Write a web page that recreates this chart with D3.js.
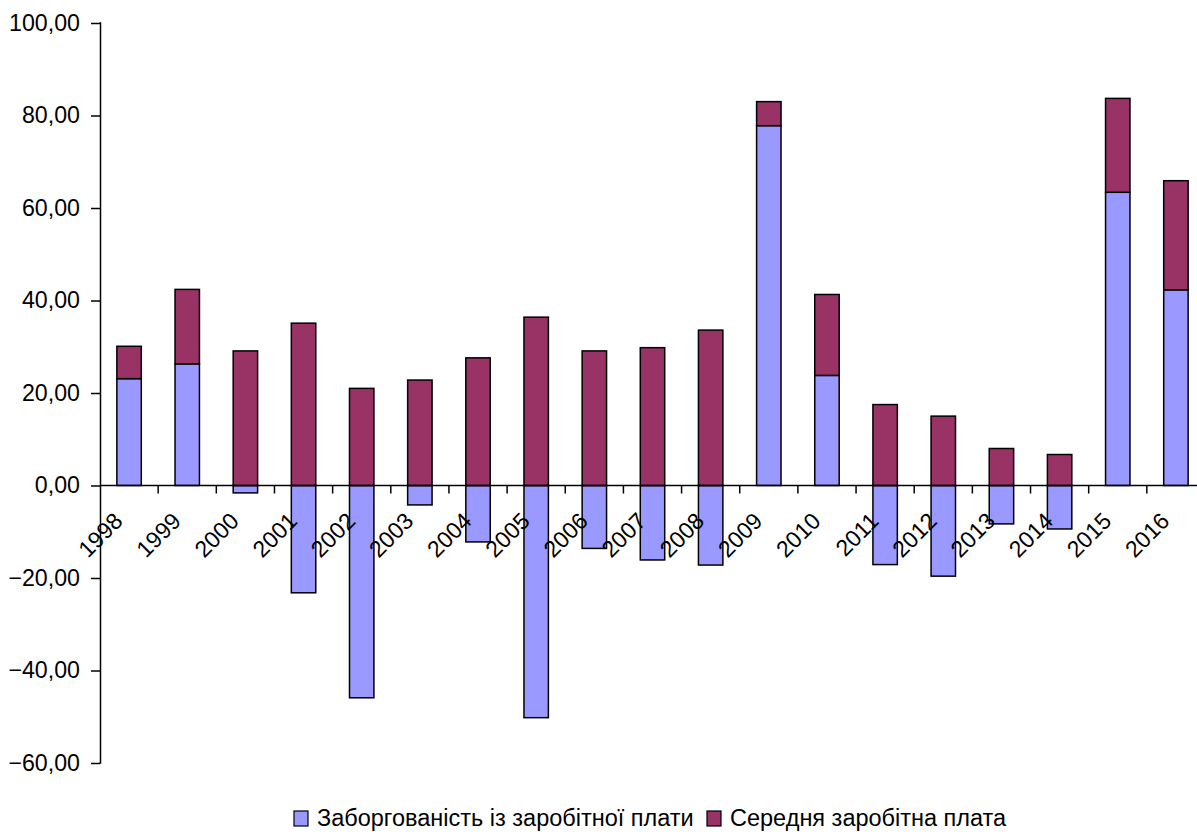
<!DOCTYPE html>
<html>
<head>
<meta charset="utf-8">
<script src="https://cdn.jsdelivr.net/npm/d3@7"></script>
<style>
  html, body { margin: 0; padding: 0; background: #fff; }
  svg { display: block; font-family: "Liberation Sans", Arial, sans-serif; }
</style>
</head>
<body>
<svg id="chart" width="1197" height="832"></svg>
<script>
// Annual change, %
const years = ["1998","1999","2000","2001","2002","2003","2004","2005","2006","2007",
               "2008","2009","2010","2011","2012","2013","2014","2015","2016"];
const arrears = [23.1, 26.3, -1.6, -23.2, -45.9, -4.2, -12.2, -50.2, -13.6, -16.1,
                 -17.2, 77.8, 23.8, -17.1, -19.6, -8.3, -9.4, 63.4, 42.3];
const wage = [7.0, 16.1, 29.1, 35.1, 21.0, 22.8, 27.6, 36.4, 29.1, 29.8,
              33.6, 5.2, 17.5, 17.5, 15.0, 8.0, 6.7, 20.3, 23.6];
const seriesNames = ["Заборгованість із заробітної плати", "Середня заробітна плата"];
const seriesColors = ["#9999FF", "#993366"];
const yTicks = [-60, -40, -20, 0, 20, 40, 60, 80, 100];

const rows = years.map((y, i) => ({ year: y, arrears: arrears[i], wage: wage[i] }));
const keys = ["arrears", "wage"];

const svg = d3.select("#chart");
const plotLeft = 100, plotRight = 1205, plotTop = 23, plotBottom = 763;

const x = d3.scaleBand().domain(years).range([plotLeft, plotRight])
  .paddingInner(0.58).paddingOuter(0.29);
const y = d3.scaleLinear().domain([-60, 100]).range([plotBottom, plotTop]);

const fmt = v => d3.format(".2f")(v).replace(".", ",");

// Y axis
const yAxis = svg.append("g")
  .attr("transform", `translate(${plotLeft},0)`)
  .call(d3.axisLeft(y).tickValues(yTicks).tickFormat(fmt).tickSize(9).tickPadding(11));
yAxis.select(".domain").attr("d", `M-0.5,${y(100)}H0.5V${y(-60)}H-0.5`)
  .attr("stroke", "#000").attr("stroke-width", 1.5);
yAxis.selectAll(".tick line").attr("stroke", "#000").attr("stroke-width", 1.5);
yAxis.selectAll(".tick text").attr("font-size", 23.2).attr("fill", "#000")
  .attr("font-family", "Liberation Sans, Arial, sans-serif");

// Stacked bars, negatives diverging below zero
const stack = d3.stack().keys(keys).offset(d3.stackOffsetDiverging);
const layers = stack(rows);

svg.append("g").selectAll("g")
  .data(layers)
  .join("g")
  .attr("fill", (d, i) => seriesColors[i])
  .selectAll("rect")
  .data(d => d)
  .join("rect")
  .attr("x", d => x(d.data.year))
  .attr("width", x.bandwidth())
  .attr("y", d => y(Math.max(d[0], d[1])))
  .attr("height", d => Math.abs(y(d[0]) - y(d[1])))
  .attr("stroke", "#000")
  .attr("stroke-width", 1.5);

// Category axis along zero
const xAxis = svg.append("g");
xAxis.append("line")
  .attr("x1", plotLeft).attr("x2", plotRight)
  .attr("y1", y(0)).attr("y2", y(0))
  .attr("stroke", "#000").attr("stroke-width", 1.5);

const step = x.step();
xAxis.selectAll("line.tick")
  .data(years.slice(1))
  .join("line")
  .attr("class", "tick")
  .attr("x1", d => x(d) - (step - x.bandwidth()) / 2)
  .attr("x2", d => x(d) - (step - x.bandwidth()) / 2)
  .attr("y1", y(0)).attr("y2", y(0) + 8)
  .attr("stroke", "#000").attr("stroke-width", 1.5);

xAxis.selectAll("text")
  .data(years)
  .join("text")
  .attr("transform", d => `translate(${x(d) + x.bandwidth() / 2 - 5},${y(0) + 37}) rotate(-45)`)
  .attr("text-anchor", "end")
  .attr("font-size", 23)
  .attr("fill", "#000")
  .text(d => d);

// Legend
const legend = svg.append("g").attr("transform", "translate(294,826)");
const items = [{ x: 0, i: 0 }, { x: 413, i: 1 }];
items.forEach(it => {
  legend.append("rect")
    .attr("x", it.x).attr("y", -15).attr("width", 14).attr("height", 15)
    .attr("fill", seriesColors[it.i]).attr("stroke", "#000").attr("stroke-width", 1.2);
  legend.append("text")
    .attr("x", it.x + 23).attr("y", 0)
    .attr("font-size", 23.5).attr("fill", "#000")
    .text(seriesNames[it.i]);
});
</script>
</body>
</html>
